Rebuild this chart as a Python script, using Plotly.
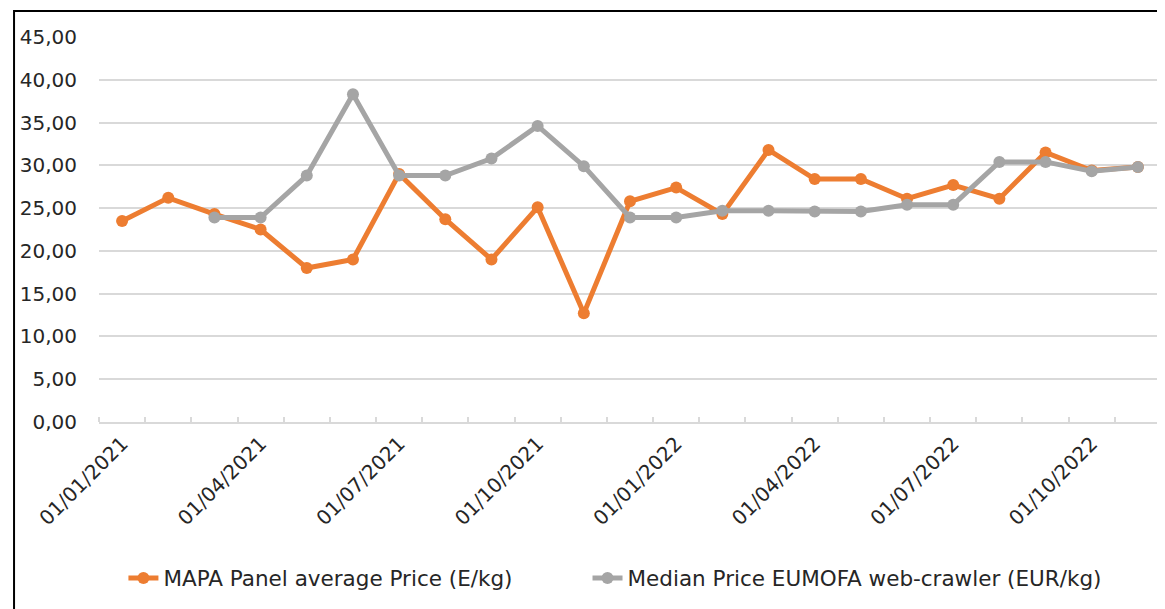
import plotly.graph_objects as go

# monthly observations, Jan 2021 .. Nov 2022
months = [
    "01/01/2021", "01/02/2021", "01/03/2021", "01/04/2021", "01/05/2021", "01/06/2021",
    "01/07/2021", "01/08/2021", "01/09/2021", "01/10/2021", "01/11/2021", "01/12/2021",
    "01/01/2022", "01/02/2022", "01/03/2022", "01/04/2022", "01/05/2022", "01/06/2022",
    "01/07/2022", "01/08/2022", "01/09/2022", "01/10/2022", "01/11/2022",
]
mapa_price = [
    23.5, 26.2, 24.3, 22.5, 18.0, 19.0, 29.0, 23.7, 19.0, 25.1, 12.7, 25.8,
    27.4, 24.3, 31.8, 28.4, 28.4, 26.1, 27.7, 26.1, 31.5, 29.4, 29.8,
]
eumofa_price = [
    None, None, 23.9, 23.9, 28.8, 38.3, 28.8, 28.8, 30.8, 34.6, 29.9, 23.9,
    23.9, 24.7, 24.7, 24.6, 24.6, 25.4, 25.4, 30.4, 30.4, 29.3, 29.8,
]
y_ticks = [0, 5, 10, 15, 20, 25, 30, 35, 40, 45]

ORANGE = "#ED7D31"
GREY = "#A5A5A5"
GRID = "#D9D9D9"
TEXT = "#262626"
FONT = "DejaVu Sans"

idx = list(range(len(months)))
label_idx = idx[::3]

fig = go.Figure()
fig.add_trace(go.Scatter(
    x=idx, y=mapa_price, mode="lines+markers",
    name="MAPA Panel average Price (E/kg)",
    line=dict(color=ORANGE, width=5),
    marker=dict(color=ORANGE, size=12),
    legend="legend",
))
fig.add_trace(go.Scatter(
    x=idx, y=eumofa_price, mode="lines+markers",
    name="Median Price EUMOFA web-crawler (EUR/kg)",
    line=dict(color=GREY, width=5),
    marker=dict(color=GREY, size=12),
    legend="legend2",
))

fig.update_xaxes(
    range=[-0.5, len(months) - 0.5],
    tickmode="array",
    tickvals=label_idx,
    ticktext=[months[i] for i in label_idx],
    tickangle=-45,
    ticks="",
    showgrid=False,
    zeroline=False,
    showline=True,
    linecolor=GRID,
    linewidth=2,
    minor=dict(ticks="inside", tick0=-0.5, dtick=1, ticklen=5, tickcolor=GRID, tickwidth=1.5, showgrid=False),
    tickfont=dict(family=FONT, size=20, color=TEXT),
)
fig.update_yaxes(
    range=[0, 45],
    tickvals=y_ticks,
    tickformat=".2f",
    showgrid=True,
    gridcolor=GRID,
    gridwidth=2,
    zeroline=False,
    showline=False,
    ticklabelstandoff=21,
    tickfont=dict(family=FONT, size=20, color=TEXT),
)

# outer chart frame (only left and top edges fall inside the picture)
fig.add_shape(
    type="rect", xref="paper", yref="paper",
    x0=-0.08, x1=1.03, y0=-0.55, y1=1.0675,
    line=dict(color="black", width=2), layer="below",
)

legend_style = dict(
    orientation="h", yanchor="middle", y=-0.405, xanchor="left",
    font=dict(family=FONT, size=21.5, color=TEXT),
    bgcolor="rgba(0,0,0,0)",
)

fig.update_layout(
    width=1165,
    height=609,
    margin=dict(l=86, r=12, t=29, b=195),
    plot_bgcolor="white",
    paper_bgcolor="white",
    separators=", ",
    showlegend=True,
    legend=dict(legend_style, x=0.023),
    legend2=dict(legend_style, x=0.46),
    font=dict(family=FONT),
)

fig.write_html("out.html")
